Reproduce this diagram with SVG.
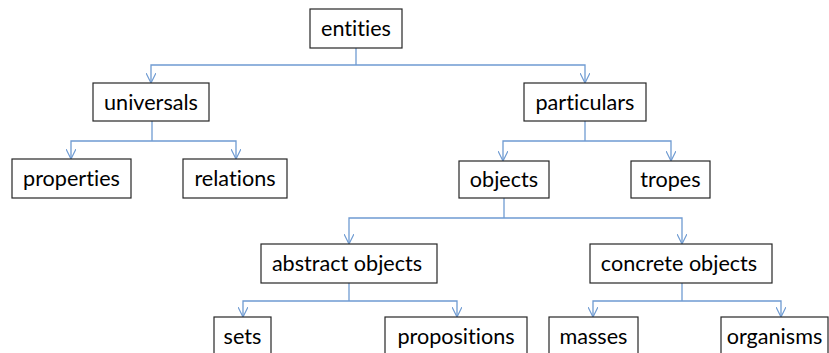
<svg xmlns="http://www.w3.org/2000/svg" width="829" height="353" viewBox="0 0 829 353">
  <style>
    .box rect { fill: #ffffff; stroke: #262626; stroke-width: 1.2; }
    .box text { font-family: Lato, "Open Sans", sans-serif; font-size: 21.6px; fill: #000000; text-anchor: middle; font-variant-ligatures: none; }
    .conn path { fill: none; stroke: #6f9bd2; stroke-width: 1.3; }
  </style>
  <defs>
    <marker id="vee" viewBox="0 0 10 10" refX="10" refY="5" markerWidth="10" markerHeight="10" markerUnits="userSpaceOnUse" orient="auto">
      <path d="M0,0 L10,5 L0,10" fill="none" stroke="#6f9bd2" stroke-width="1.2"/>
    </marker>
  </defs>
  <rect width="829" height="353" fill="#ffffff"/>

  <g class="conn" id="connectors">
    <!-- entities -> universals / particulars -->
    <path d="M356,48 V65"/>
    <path d="M356,65 H151 V83" marker-end="url(#vee)"/>
    <path d="M356,65 H585 V83" marker-end="url(#vee)"/>
    <!-- universals -> properties / relations -->
    <path d="M152,121 V141"/>
    <path d="M152,141 H71 V159" marker-end="url(#vee)"/>
    <path d="M152,141 H236 V159" marker-end="url(#vee)"/>
    <!-- particulars -> objects / tropes -->
    <path d="M585,121 V141"/>
    <path d="M585,141 H503 V161" marker-end="url(#vee)"/>
    <path d="M585,141 H671 V161" marker-end="url(#vee)"/>
    <!-- objects -> abstract / concrete -->
    <path d="M504,198 V218"/>
    <path d="M504,218 H349 V244" marker-end="url(#vee)"/>
    <path d="M504,218 H682 V244" marker-end="url(#vee)"/>
    <!-- abstract objects -> sets / propositions -->
    <path d="M349,283 V301"/>
    <path d="M349,301 H243 V317" marker-end="url(#vee)"/>
    <path d="M349,301 H457 V317" marker-end="url(#vee)"/>
    <!-- concrete objects -> masses / organisms -->
    <path d="M682,283 V301"/>
    <path d="M682,301 H593 V317" marker-end="url(#vee)"/>
    <path d="M682,301 H781 V317" marker-end="url(#vee)"/>
  </g>

  <g class="box" id="entities"><rect x="310" y="9" width="92" height="39"/><text x="356" y="36">entities</text></g>
  <g class="box" id="universals"><rect x="93" y="83" width="116" height="38"/><text x="151" y="110">universals</text></g>
  <g class="box" id="particulars"><rect x="524" y="83" width="122" height="38"/><text x="585" y="110">particulars</text></g>
  <g class="box" id="properties"><rect x="12" y="159" width="119" height="39"/><text x="71.5" y="186">properties</text></g>
  <g class="box" id="relations"><rect x="183" y="159" width="104" height="39"/><text x="235" y="186">relations</text></g>
  <g class="box" id="objects"><rect x="459" y="161" width="90" height="37"/><text x="504" y="187">objects</text></g>
  <g class="box" id="tropes"><rect x="631" y="161" width="79" height="37"/><text x="670.5" y="187">tropes</text></g>
  <g class="box" id="abstract-objects"><rect x="261" y="244" width="176" height="39"/><text x="347" y="271">abstract objects</text></g>
  <g class="box" id="concrete-objects"><rect x="590" y="244" width="182" height="39"/><text x="679" y="271">concrete objects</text></g>
  <g class="box" id="sets"><rect x="214" y="317" width="57" height="40"/><text x="242.5" y="344">sets</text></g>
  <g class="box" id="propositions"><rect x="385" y="317" width="142" height="40"/><text x="456" y="344">propositions</text></g>
  <g class="box" id="masses"><rect x="549" y="317" width="89" height="40"/><text x="593.5" y="344">masses</text></g>
  <g class="box" id="organisms"><rect x="721" y="317" width="107" height="40"/><text x="774.5" y="344">organisms</text></g>
</svg>
